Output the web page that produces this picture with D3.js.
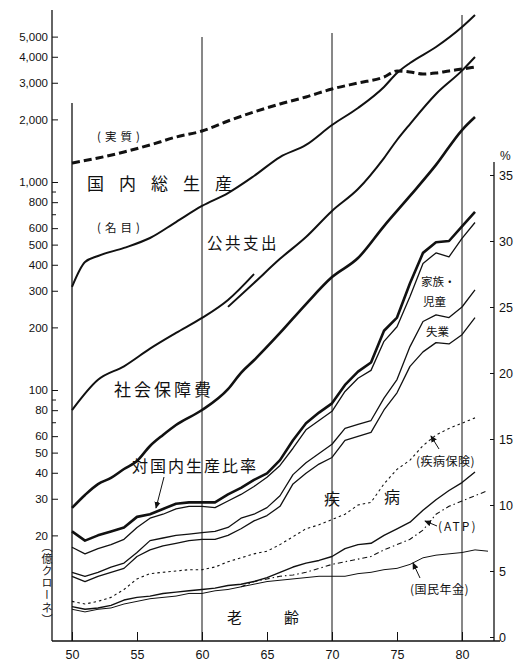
<!DOCTYPE html>
<html><head><meta charset="utf-8">
<script src="https://cdn.jsdelivr.net/npm/d3@7"></script>
<style>body{margin:0;background:#fff} svg{display:block}</style>
</head><body><svg id="c" width="515" height="661"></svg>
<script>
// ---- data (億クローネ, log scale) ----
const gdpRealYears = [1950,1952,1954,1956,1958,1960,1962,1964,1966,1968,1970,1972,1974,1975,1976,1977,1978,1979,1980,1981];
const gdpReal      = [1234,1304,1394,1507,1645,1758,1964,2171,2372,2564,2800,2993,3198,3418,3380,3304,3342,3418,3493,3571];
const gdpNomYears  = [1950,1951,1952,1954,1956,1958,1960,1962,1964,1966,1968,1970,1972,1974,1975,1976,1978,1980,1981];
const gdpNominal   = [313,412,441,482,538,642,767,885,1069,1318,1507,1879,2269,2864,3342,3733,4457,5560,6353];
const pubYears1    = [1950,1952,1954,1956,1958,1960,1962,1964];
const publicExp1   = [80,112,130,158,188,222,271,361];
const pubYears2    = [1962,1964,1966,1968,1970,1972,1974,1975,1976,1978,1980,1981];
const publicExp2   = [251,327,427,544,726,925,1304,1592,1900,2650,3430,3990];
const ssYears      = [1950,1951,1952,1953,1954,1955,1956,1957,1958,1960,1962,1963,1964,1966,1968,1970,1972,1974,1976,1978,1980,1981];
const socialSec    = [27.1,31.3,35.3,37.8,41.7,45.6,53.8,60.8,67.9,80.1,101,121,139,188,259,349,431,614,857,1208,1778,2053];

// ---- data (% of GDP, cumulative boundaries) ----
const pctYears = [1950,1951,1952,1953,1954,1955,1956,1957,1958,1959,1960,1961,1962,1963,1964,1965,1966,1967,1968,1969,1970,1971,1972,1973,1974,1975,1976,1977,1978,1979,1980,1981];
const pctTotal   = [8.0,7.3,7.7,8.0,8.3,9.1,9.3,9.7,10.1,10.2,10.2,10.2,10.8,11.3,11.9,12.4,13.4,14.9,16.2,17.0,17.7,19.1,20.1,20.8,23.2,24.2,26.8,29.1,29.9,30.0,31.1,32.2];
const pctOther   = [6.8,6.3,6.7,7.0,7.4,8.3,9.0,9.3,9.7,9.9,9.9,9.8,10.3,10.8,11.4,12.1,13.0,14.3,15.7,16.4,17.1,18.6,19.6,20.2,22.4,23.5,25.8,28.3,29.1,28.8,30.2,31.4];
const pctFamily  = [4.9,4.6,4.9,5.3,5.6,6.4,7.3,7.5,7.7,7.8,7.9,8.0,8.3,9.0,9.3,9.8,10.7,12.3,13.2,13.9,14.6,15.8,16.1,16.4,18.1,19.5,22.0,23.9,24.4,24.2,25.0,26.3];
const pctUnemp   = [4.6,4.2,4.6,4.9,5.2,6.1,6.6,6.9,7.1,7.3,7.4,7.4,7.7,8.2,8.8,9.2,9.9,11.6,12.4,13.1,13.6,14.9,15.2,15.5,17.2,18.5,20.5,21.6,22.3,22.2,22.9,24.2];
const pctSickIns = [2.7,2.5,2.7,3.0,3.6,4.4,4.8,4.9,5.0,5.1,5.1,5.3,5.7,6.0,6.3,6.5,7.0,7.6,8.2,8.5,8.9,9.3,10.0,10.2,11.6,12.7,13.4,14.5,15.3,15.8,16.2,16.6];
const pctOldAge  = [2.3,2.1,2.2,2.4,2.8,3.0,3.1,3.3,3.4,3.5,3.6,3.7,3.9,4.0,4.2,4.5,4.9,5.3,5.6,5.8,6.1,6.7,7.0,7.1,7.7,8.2,8.7,9.6,10.4,11.1,11.7,12.5];
const atpYears   = [1963,1964,1965,1966,1967,1968,1969,1970,1971,1972,1973,1974,1975,1976,1977,1978,1979,1980,1981,1982];
const pctATP     = [3.8,4.2,4.4,4.6,4.7,4.9,5.2,5.5,5.7,5.9,6.1,6.6,7.0,7.4,8.1,9.3,9.9,10.3,10.7,11.1];
const npYears    = [1950,1951,1952,1953,1954,1955,1956,1957,1958,1959,1960,1961,1962,1963,1964,1965,1966,1967,1968,1969,1970,1971,1972,1973,1974,1975,1976,1977,1978,1979,1980,1981,1982];
const pctNatPen  = [2.1,1.9,2.1,2.2,2.5,2.7,2.9,3.0,3.1,3.3,3.3,3.5,3.6,3.8,4.0,4.2,4.3,4.4,4.5,4.6,4.6,4.6,4.8,4.9,5.1,5.2,5.5,6.0,6.2,6.3,6.4,6.6,6.5];

// ---- ticks ----
const xTicks = [1950,1955,1960,1965,1970,1975,1980];
const logTicks = [20,30,40,50,60,80,100,200,300,400,500,600,800,1000,2000,3000,4000,5000];
const logMinor = [70,90,700,900];
const pctTicks = [0,5,10,15,20,25,30,35];

const svg = d3.select("#c");
const ink = "#111";
const x = d3.scaleLinear().domain([1950,1980]).range([72,462]);
const yLog = d3.scaleLog().domain([100,1000]).range([390,182]);
const yPct = d3.scaleLinear().domain([0,35]).range([637,175]);
const FONT_NUM = "'Liberation Sans', 'DejaVu Sans', sans-serif";
const FONT_JP = "'Noto Sans CJK JP', sans-serif";

svg.append("rect").attr("width",515).attr("height",661).attr("fill","#fff");

const defs = svg.append("defs");
defs.append("marker").attr("id","ah").attr("viewBox","0 0 8 8").attr("refX",7).attr("refY",4)
  .attr("markerWidth",7).attr("markerHeight",7).attr("markerUnits","userSpaceOnUse").attr("orient","auto")
  .append("path").attr("d","M0,0.5 L8,4 L0,7.5 Z").attr("fill",ink);

// frame lines
const axisY = 641;
svg.append("line").attr("x1",52).attr("x2",52).attr("y1",10).attr("y2",axisY).attr("stroke",ink).attr("stroke-width",1.3);
svg.append("line").attr("x1",x(1950)).attr("x2",x(1950)).attr("y1",103).attr("y2",axisY).attr("stroke",ink).attr("stroke-width",1.3);
svg.append("line").attr("x1",52).attr("x2",500).attr("y1",axisY).attr("y2",axisY).attr("stroke",ink).attr("stroke-width",1.3);
svg.append("line").attr("x1",494).attr("x2",494).attr("y1",162).attr("y2",axisY).attr("stroke",ink).attr("stroke-width",1.3);
const gridTop = {1960:37,1970:33,1980:15};
[1960,1970,1980].forEach(yr=>{
  svg.append("line").attr("x1",x(yr)).attr("x2",x(yr)).attr("y1",gridTop[yr]).attr("y2",axisY)
    .attr("stroke",ink).attr("stroke-width",1);
});

// bottom axis
const gx = svg.append("g").attr("transform",`translate(0,${axisY})`)
  .call(d3.axisBottom(x).tickValues(xTicks).tickFormat(d=>String(d).slice(2)).tickSizeInner(-9).tickSizeOuter(0).tickPadding(9));
gx.select(".domain").remove();
gx.selectAll("line").attr("stroke",ink);
gx.selectAll("text").attr("font-family",FONT_NUM).attr("font-size",12.5).attr("fill",ink);

// left log axis
const gl = svg.append("g").attr("transform","translate(52,0)")
  .call(d3.axisLeft(yLog).tickValues(logTicks).tickFormat(d3.format(",")).tickSizeInner(-6).tickSizeOuter(0).tickPadding(4));
gl.select(".domain").remove();
gl.selectAll("line").attr("stroke",ink);
gl.selectAll("text").attr("font-family",FONT_NUM).attr("font-size",11.5).attr("fill",ink);
const glm = svg.append("g").attr("transform","translate(52,0)")
  .call(d3.axisLeft(yLog).tickValues(logMinor).tickFormat("").tickSizeInner(-4).tickSizeOuter(0));
glm.select(".domain").remove();
glm.selectAll("line").attr("stroke",ink);

// right % axis
const gr = svg.append("g").attr("transform","translate(494,0)")
  .call(d3.axisRight(yPct).tickValues(pctTicks).tickSizeInner(-4).tickSizeOuter(0).tickPadding(5));
gr.select(".domain").remove();
gr.selectAll("line").attr("stroke",ink);
gr.selectAll("text").attr("font-family",FONT_NUM).attr("font-size",12.5).attr("fill",ink);
svg.append("text").attr("x",500).attr("y",160).text("%").attr("font-family",FONT_NUM).attr("font-size",12).attr("fill",ink);

// vertical unit label
svg.append("text").attr("x",47).attr("y",541).attr("writing-mode","vertical-rl")
  .attr("font-family",FONT_JP).attr("font-size",11).attr("letter-spacing",1.2).attr("fill",ink)
  .text("（億クローネ）");

// line helpers
function drawLog(years, vals, w, dash, curve){
  const ln = d3.line().x((d,i)=>x(years[i])).y(d=>yLog(d)).curve(curve||d3.curveMonotoneX);
  svg.append("path").attr("d",ln(vals)).attr("fill","none").attr("stroke",ink).attr("stroke-width",w)
    .attr("stroke-dasharray",dash||null).attr("stroke-linejoin","round");
}
function drawPct(years, vals, w, dash){
  const ln = d3.line().x((d,i)=>x(years[i])).y(d=>yPct(d)).curve(d3.curveLinear);
  svg.append("path").attr("d",ln(vals)).attr("fill","none").attr("stroke",ink).attr("stroke-width",w)
    .attr("stroke-dasharray",dash||null).attr("stroke-linejoin","round");
}

drawLog(gdpRealYears, gdpReal, 3, "8,4");
drawLog(gdpNomYears, gdpNominal, 2);
drawLog(pubYears1, publicExp1, 2);
drawLog(pubYears2, publicExp2, 2);
drawLog(ssYears, socialSec, 2.6);

drawPct(pctYears, pctTotal, 2.6);
drawPct(pctYears, pctOther, 1.3);
drawPct(pctYears, pctFamily, 1.3);
drawPct(pctYears, pctUnemp, 1.3);
drawPct(pctYears, pctSickIns, 1.1, "2.5,3");
drawPct(pctYears, pctOldAge, 1.4);
drawPct(atpYears, pctATP, 1.1, "5,3,1.5,3");
drawPct(npYears, pctNatPen, 1);

// labels
function lab(t, xx, yy, size, ls){
  svg.append("text").attr("x",xx).attr("y",yy).text(t).attr("font-family",FONT_JP)
    .attr("font-size",size).attr("letter-spacing",ls||0).attr("fill",ink);
}
lab("(実質)", 97, 141, 11.5, 4);
lab("国内総生産", 87, 190, 17, 15);
lab("(名目)", 97, 232, 11.5, 4);
lab("公共支出", 207, 249, 15.5, 2.5);
lab("社会保障費", 114, 396, 17, 3);
lab("対国内生産比率", 132, 472, 16, 2);
lab("疾", 324, 505, 16);
lab("病", 384, 503, 16);
lab("老", 227, 623, 15);
lab("齢", 284, 623, 15);
lab("(疾病保険)", 416, 466, 12, 0.5);
lab("(ATP)", 438, 531, 12, 2);
lab("(国民年金)", 410, 594, 12, 0.5);
lab("家族・", 421, 286, 11.5);
lab("児童", 423, 306, 11.5);
lab("失業", 426, 336, 11.5);

// arrows
function arrow(x1,y1,x2,y2){
  svg.append("line").attr("x1",x1).attr("y1",y1).attr("x2",x2).attr("y2",y2)
    .attr("stroke",ink).attr("stroke-width",1).attr("marker-end","url(#ah)");
}
arrow(164,477,156,508);
arrow(439,449,431,436);
arrow(437,526,425,521);
arrow(420,578,413,563);
</script></body></html>
